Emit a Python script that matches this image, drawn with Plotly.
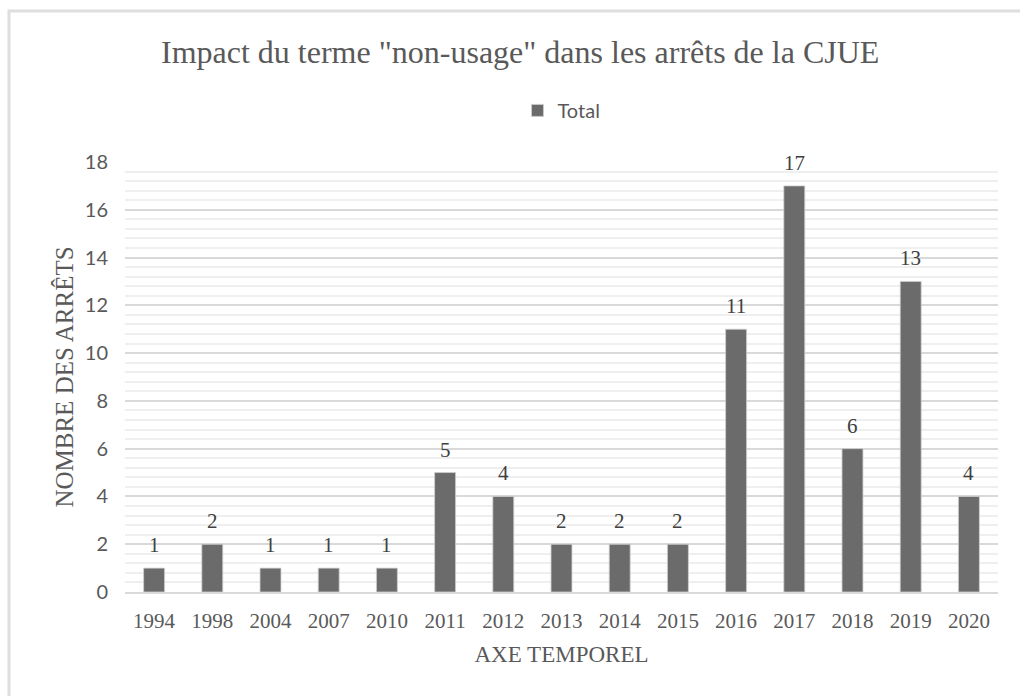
import plotly.graph_objects as go

years = ["1994", "1998", "2004", "2007", "2010", "2011", "2012", "2013", "2014", "2015",
         "2016", "2017", "2018", "2019", "2020"]
totals = [1, 2, 1, 1, 1, 5, 4, 2, 2, 2, 11, 17, 6, 13, 4]

serif = "Liberation Serif, Times New Roman, serif"
sans = "Lato, Carlito, Calibri, sans-serif"
grey = "#595959"

fig = go.Figure()
fig.add_trace(go.Bar(
    x=years, y=totals, name="Total",
    marker=dict(color="#6b6b6b", line=dict(color="#cfcfcf", width=0.8)),
    showlegend=True,
))

# value labels placed via category index on the category axis
for i, v in enumerate(totals):
    fig.add_annotation(x=i, y=v, xref="x", yref="y", text=str(v), showarrow=False,
                       yanchor="bottom", yshift=9,
                       font=dict(family=serif, size=21, color="#404040"))

fig.update_layout(
    width=1020, height=696,
    margin=dict(l=125, r=22, t=162, b=104),
    paper_bgcolor="white", plot_bgcolor="white",
    bargap=0.64,
    title=dict(text='Impact du terme "non-usage" dans les arrêts de la CJUE',
               x=0.51, xanchor="center", y=0.925, yanchor="middle",
               font=dict(family=serif, size=32, color=grey)),
    legend=dict(orientation="h", x=0.5, xanchor="center", y=1.12, yanchor="middle",
                font=dict(family=sans, size=20, color=grey)),
    xaxis=dict(
        type="category", categoryorder="array", categoryarray=years,
        range=[-0.5, len(years) - 0.5],
        title=dict(text="AXE TEMPOREL", font=dict(family=serif, size=23, color=grey), standoff=14),
        tickfont=dict(family=serif, size=21, color=grey), ticklabelstandoff=9,
        showgrid=False, showline=True, linecolor="#d9d9d9", linewidth=1.5, ticks="",
    ),
    yaxis=dict(
        title=dict(text="NOMBRE DES ARRÊTS", font=dict(family=serif, size=25, color=grey), standoff=4),
        tickfont=dict(family=sans, size=20, color=grey), ticklabelstandoff=16,
        range=[0, 18], dtick=2, tick0=0,
        showgrid=True, gridcolor="#d9d9d9", gridwidth=1.5,
        zeroline=False, showline=False, ticks="",
        minor=dict(dtick=0.4, tick0=0, showgrid=True, gridcolor="#efefef", gridwidth=1.5),
    ),
    shapes=[dict(type="rect", xref="paper", yref="paper", x0=-0.1329, x1=1.1, y0=-0.5, y1=1.3512,
                 line=dict(color="#dedede", width=3), fillcolor="rgba(0,0,0,0)", layer="below")],
)

fig.write_html("out.html")
